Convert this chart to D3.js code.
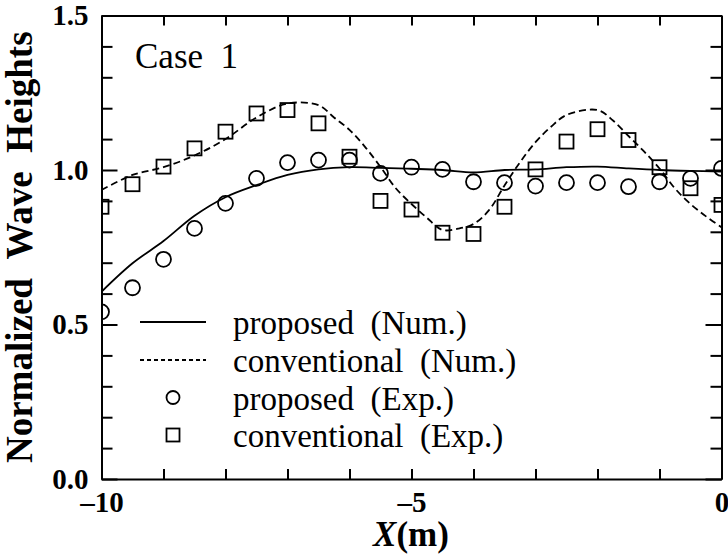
<!DOCTYPE html>
<meta charset="utf-8">
<script src="https://d3js.org/d3.v7.min.js"></script>
<style>
  body { margin: 0; background: #fff; }
  text { font-family: "Liberation Serif", "Times New Roman", serif; fill: #000; }
</style>
<div id="my_dataviz"></div>
<script>
// chart data
var expX = [-10, -9.5, -9, -8.5, -8, -7.5, -7, -6.5, -6, -5.5, -5, -4.5, -4, -3.5, -3, -2.5, -2, -1.5, -1, -0.5, 0];
var proposedExp = [0.541, 0.619, 0.711, 0.811, 0.892, 0.973, 1.024, 1.032, 1.032, 0.989, 1.009, 1.002, 0.962, 0.959, 0.948, 0.959, 0.959, 0.946, 0.962, 0.973, 1.005];
var conventionalExp = [0.881, 0.954, 1.011, 1.07, 1.124, 1.183, 1.194, 1.151, 1.043, 0.9, 0.872, 0.797, 0.793, 0.881, 1.002, 1.092, 1.132, 1.097, 1.009, 0.941, 0.887];

var propNumX = [-10, -9.5, -9, -8.5, -8, -7.5, -7, -6.5, -6, -5.5, -5, -4.5, -4, -3.5, -3, -2.5, -2, -1.5, -1, -0.5, 0];
var proposedNum = [0.606, 0.698, 0.77, 0.852, 0.912, 0.951, 0.984, 1.002, 1.009, 1.007, 1.004, 1.0, 0.992, 1.0, 1.002, 1.009, 1.011, 1.005, 1.0, 0.997, 0.995];

var convNumX = [-10, -9.5, -9, -8.5, -8, -7.5, -7, -6.5, -6.25, -6, -5.75, -5.5, -5.25, -5, -4.75, -4.5, -4.25, -4, -3.75, -3.5, -3.25, -3, -2.75, -2.5, -2, -1.75, -1.5, -1.25, -1, -0.75, -0.5, -0.25, 0];
var conventionalNum = [0.935, 0.984, 1.009, 1.047, 1.10, 1.17, 1.215, 1.21, 1.17, 1.13, 1.075, 1.01, 0.94, 0.89, 0.845, 0.806, 0.81, 0.825, 0.87, 0.95, 1.025, 1.09, 1.14, 1.178, 1.194, 1.16, 1.11, 1.06, 1.005, 0.94, 0.89, 0.85, 0.815];

var xTicks = [-10, -9, -8, -7, -6, -5, -4, -3, -2, -1, 0];
var xLabels = [-10, -5, 0];
var yMajor = [0, 0.5, 1.0, 1.5];
var yMinor = [0.1, 0.2, 0.3, 0.4, 0.6, 0.7, 0.8, 0.9, 1.1, 1.2, 1.3, 1.4];

var legendItems = ["proposed  (Num.)", "conventional  (Num.)", "proposed  (Exp.)", "conventional  (Exp.)"];

// layout (plot box edges in pixels)
var W = 728, H = 559;
var pLeft = 101.5, pRight = 721.5, pTop = 15.5, pBottom = 479;

var svg = d3.select("#my_dataviz")
  .append("svg")
    .attr("width", W)
    .attr("height", H);

var x = d3.scaleLinear().domain([-10, 0]).range([pLeft, pRight]);
var y = d3.scaleLinear().domain([0, 1.5]).range([pBottom, pTop]);

function styleAxis(g) {
  g.select(".domain").attr("stroke", "#000").attr("stroke-width", 2);
  g.selectAll(".tick line").attr("stroke", "#000").attr("stroke-width", 2);
  g.selectAll("text")
    .style("font-family", "'Liberation Serif', serif")
    .style("font-weight", "bold")
    .style("font-size", "29px");
}

// bottom axis: ticks every metre, labels at -10, -5, 0
svg.append("g")
  .attr("transform", "translate(0," + pBottom + ")")
  .call(d3.axisBottom(x).tickValues(xTicks).tickSize(-10).tickSizeOuter(0).tickPadding(12)
    .tickFormat(function(d) { return xLabels.indexOf(d) >= 0 ? (d < 0 ? "\u2013" + Math.abs(d) : d) : ""; }))
  .call(styleAxis);

svg.append("g")
  .attr("transform", "translate(0," + pTop + ")")
  .call(d3.axisTop(x).tickValues(xTicks).tickSize(-10).tickSizeOuter(0).tickFormat(""))
  .call(styleAxis);

// left axis
svg.append("g")
  .attr("transform", "translate(" + pLeft + ",0)")
  .call(d3.axisLeft(y).tickValues(yMinor).tickSize(-11).tickSizeOuter(0).tickFormat(""))
  .call(styleAxis);
svg.append("g")
  .attr("transform", "translate(" + pLeft + ",0)")
  .call(d3.axisLeft(y).tickValues(yMajor).tickSize(-16).tickSizeOuter(0).tickPadding(13).tickFormat(d3.format(".1f")))
  .call(styleAxis);

// right axis
svg.append("g")
  .attr("transform", "translate(" + pRight + ",0)")
  .call(d3.axisRight(y).tickValues(yMinor).tickSize(-11).tickSizeOuter(0).tickFormat(""))
  .call(styleAxis);
svg.append("g")
  .attr("transform", "translate(" + pRight + ",0)")
  .call(d3.axisRight(y).tickValues(yMajor).tickSize(-16).tickSizeOuter(0).tickFormat(""))
  .call(styleAxis);

// clip to plot area
svg.append("clipPath").attr("id", "clip")
  .append("rect")
    .attr("x", pLeft).attr("y", pTop)
    .attr("width", pRight - pLeft).attr("height", pBottom - pTop);

var plot = svg.append("g").attr("clip-path", "url(#clip)");

var line = d3.line()
  .x(function(d) { return x(d[0]); })
  .y(function(d) { return y(d[1]); })
  .curve(d3.curveCatmullRom);

plot.append("path")
  .datum(d3.zip(propNumX, proposedNum))
  .attr("d", line)
  .attr("fill", "none")
  .attr("stroke", "#000")
  .attr("stroke-width", 1.8);

plot.append("path")
  .datum(d3.zip(convNumX, conventionalNum))
  .attr("d", line)
  .attr("fill", "none")
  .attr("stroke", "#000")
  .attr("stroke-width", 1.8)
  .attr("stroke-dasharray", "7,4");

// experimental points
plot.selectAll(".circ")
  .data(d3.zip(expX, proposedExp))
  .enter()
  .append("circle")
    .attr("class", "circ")
    .attr("cx", function(d) { return x(d[0]); })
    .attr("cy", function(d) { return y(d[1]); })
    .attr("r", 7.5)
    .attr("fill", "none")
    .attr("stroke", "#000")
    .attr("stroke-width", 1.8);

plot.selectAll(".sq")
  .data(d3.zip(expX, conventionalExp))
  .enter()
  .append("rect")
    .attr("class", "sq")
    .attr("x", function(d) { return x(d[0]) - 7; })
    .attr("y", function(d) { return y(d[1]) - 7; })
    .attr("width", 14)
    .attr("height", 14)
    .attr("fill", "none")
    .attr("stroke", "#000")
    .attr("stroke-width", 1.8);

// case label
svg.append("text")
  .attr("x", 135)
  .attr("y", 68)
  .style("font-size", "35px")
  .text("Case\u00a0\u00a01");

// legend
var legY = [322, 360, 397.5, 435];
var leg = svg.append("g");
leg.append("line")
  .attr("x1", 140).attr("x2", 206).attr("y1", legY[0]).attr("y2", legY[0])
  .attr("stroke", "#000").attr("stroke-width", 1.8);
leg.append("line")
  .attr("x1", 140).attr("x2", 206).attr("y1", legY[1]).attr("y2", legY[1])
  .attr("stroke", "#000").attr("stroke-width", 1.8).attr("stroke-dasharray", "4,3");
leg.append("circle")
  .attr("cx", 173).attr("cy", legY[2]).attr("r", 6.5)
  .attr("fill", "none").attr("stroke", "#000").attr("stroke-width", 1.8);
leg.append("rect")
  .attr("x", 166.5).attr("y", legY[3] - 6.5).attr("width", 13).attr("height", 13)
  .attr("fill", "none").attr("stroke", "#000").attr("stroke-width", 1.8);
leg.selectAll(".lt")
  .data(legendItems)
  .enter()
  .append("text")
    .attr("class", "lt")
    .attr("x", 233)
    .attr("y", function(d, i) { return legY[i] + 12; })
    .style("font-size", "33px")
    .text(function(d) { return d.replace(/  /g, "\u00a0\u00a0"); });

// axis titles
var xt = svg.append("text")
  .attr("x", 411)
  .attr("y", 546)
  .attr("text-anchor", "middle")
  .style("font-size", "35px")
  .style("font-weight", "bold");
xt.append("tspan").style("font-style", "italic").text("X");
xt.append("tspan").text("(m)");

svg.append("text")
  .attr("transform", "translate(32," + ((pTop + pBottom) / 2) + ") rotate(-90)")
  .attr("text-anchor", "middle")
  .style("font-size", "37px")
  .style("font-weight", "bold")
  .text("Normalized\u00a0\u00a0Wave\u00a0\u00a0Heights");
</script>
